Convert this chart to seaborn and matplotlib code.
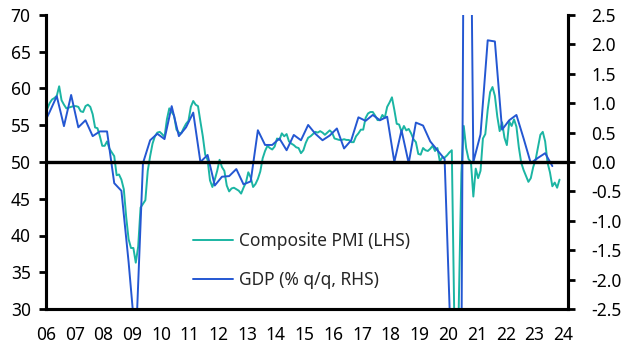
import numpy as np
import pandas as pd
import matplotlib.pyplot as plt
import seaborn as sns

# Composite PMI, monthly, Jan 2006 - Nov 2023
pmi = [
    57.2, 58.0, 58.5, 58.7, 59.0, 60.3, 58.4, 57.8, 57.3, 57.4, 57.5, 57.6,  # 2006
    57.6, 57.5, 56.9, 56.8, 57.6, 57.8, 57.5, 56.5, 54.7, 54.6, 53.5, 52.2,  # 2007
    52.2, 52.8, 51.8, 51.3, 50.8, 48.2, 48.3, 47.6, 46.3, 42.5, 39.5, 38.3,  # 2008
    38.3, 36.3, 38.5, 43.8, 44.3, 44.8, 48.8, 50.8, 52.5, 53.5, 54.0, 54.1,  # 2009
    53.8, 53.4, 55.8, 57.3, 56.8, 56.3, 54.4, 54.0, 53.9, 54.6, 55.2, 55.6,  # 2010
    57.5, 58.3, 57.8, 57.6, 55.5, 53.5, 51.0, 50.3, 47.5, 46.6, 47.6, 48.8,  # 2011
    50.3, 49.3, 48.8, 46.8, 46.0, 46.4, 46.5, 46.3, 46.1, 45.7, 46.5, 47.2,  # 2012
    48.6, 47.9, 46.6, 47.0, 47.7, 48.7, 50.5, 51.5, 52.2, 51.9, 51.7, 52.1,  # 2013
    53.2, 53.0, 53.9, 53.5, 53.8, 52.8, 52.5, 52.3, 52.0, 51.9, 51.2, 51.6,  # 2014
    52.6, 53.3, 53.5, 53.8, 54.1, 54.0, 54.2, 54.0, 53.7, 54.0, 54.3, 54.0,  # 2015
    53.2, 53.1, 53.0, 53.0, 53.1, 53.0, 53.0, 52.7, 52.7, 53.5, 53.9, 54.4,  # 2016
    54.4, 56.0, 56.6, 56.8, 56.8, 56.3, 55.7, 55.7, 56.4, 56.0, 57.5, 58.1,  # 2017
    58.8, 57.1, 55.2, 55.1, 54.1, 54.9, 54.3, 54.5, 53.9, 53.1, 52.7, 51.1,  # 2018
    51.0, 51.9, 51.6, 51.5, 51.8, 52.2, 51.5, 51.9, 50.1, 50.6, 50.6, 50.9,  # 2019
    51.3, 51.6, 29.7, 13.6, 31.9, 48.5, 54.9, 51.9, 50.4, 50.0, 45.3, 49.1,  # 2020
    47.8, 48.8, 53.2, 53.8, 57.1, 59.5, 60.2, 59.0, 56.2, 54.2, 55.4, 53.3,  # 2021
    52.3, 55.5, 54.9, 55.8, 54.8, 52.0, 49.9, 48.9, 48.1, 47.3, 47.8, 49.3,  # 2022
    50.3, 52.0, 53.7, 54.1, 52.8, 49.9, 48.6, 46.7, 47.2, 46.5, 47.6,        # 2023
]
pmi_start = 2006

# GDP % q/q, quarterly, Q4 2005 - Q3 2023
gdp = [
    0.60,
    0.85, 1.12, 0.61, 1.14,    # 2006
    0.59, 0.71, 0.44, 0.52,    # 2007
    0.52, -0.36, -0.49, -1.70, # 2008
    -3.10, -0.02, 0.37, 0.48,  # 2009
    0.39, 0.95, 0.44, 0.59,    # 2010
    0.84, 0.00, 0.12, -0.40,   # 2011
    -0.25, -0.24, -0.12, -0.38,  # 2012
    -0.33, 0.54, 0.29, 0.29,   # 2013
    0.40, 0.20, 0.46, 0.37,    # 2014
    0.63, 0.48, 0.37, 0.45,    # 2015
    0.57, 0.23, 0.37, 0.76,    # 2016
    0.70, 0.80, 0.71, 0.77,    # 2017
    0.00, 0.54, -0.02, 0.67,   # 2018
    0.62, 0.35, 0.20, 0.05,    # 2019
    -3.60, -11.50, 12.50, 0.00,  # 2020
    0.47, 2.07, 2.05, 0.55,    # 2021
    0.71, 0.80, 0.40, -0.02,   # 2022
    0.07, 0.15, -0.07,         # 2023
]
gdp_start = 2005.75

years = list(range(2006, 2025))
year_labels = [f"{y % 100:02d}" for y in years]

teal = "#1bb5a3"
blue = "#2457d2"

sns.set_style("white")
plt.rcParams["font.family"] = ["Noto Sans", "DejaVu Sans"]

pmi_df = pd.DataFrame({"date": pmi_start + (np.arange(len(pmi)) + 0.5) / 12, "value": pmi})
gdp_df = pd.DataFrame({"date": gdp_start + (np.arange(len(gdp)) + 0.5) / 4, "value": gdp})

fig = plt.figure(figsize=(6.3, 3.57), dpi=100)
ax = fig.add_axes([46 / 630, 1 - 309 / 357, 522 / 630, 294 / 357])
ax2 = ax.twinx()

sns.lineplot(data=pmi_df, x="date", y="value", ax=ax, color=teal, lw=1.4,
             label="Composite PMI (LHS)")
sns.lineplot(data=gdp_df, x="date", y="value", ax=ax2, color=blue, lw=1.4,
             label="GDP (% q/q, RHS)")
ax2.axhline(0, color="black", lw=2.4, zorder=5)

ax.set_xlim(2006, 2024.17)
ax.set_ylim(30, 70)
ax2.set_ylim(-2.5, 2.5)

ax.set_xticks(years)
ax.set_xticklabels(year_labels)
ax.set_yticks(range(30, 71, 5))
rticks = np.arange(-2.5, 2.51, 0.5)
ax2.set_yticks(rticks)
ax2.set_yticklabels([f"{v:.1f}" for v in rticks])

for a in (ax, ax2):
    a.set_xlabel("")
    a.set_ylabel("")
    a.spines["top"].set_visible(False)
    for s in ("left", "right", "bottom"):
        a.spines[s].set_linewidth(2.2)
        a.spines[s].set_color("black")
    a.tick_params(direction="out", length=5, width=2, labelsize=12.5,
                  colors="black")
    a.grid(False)

ax.tick_params(axis="x", pad=7.5)
ax.tick_params(axis="y", pad=6)
ax2.tick_params(axis="y", pad=12)

h1, l1 = ax.get_legend_handles_labels()
h2, l2 = ax2.get_legend_handles_labels()
ax.get_legend().remove()
ax2.get_legend().remove()
ax2.legend(h1 + h2, l1 + l2, frameon=False, loc="center left",
           bbox_to_anchor=(0.282, 0.165), borderpad=0, borderaxespad=0,
           handlelength=2.3, handletextpad=0.35, labelspacing=1.2, fontsize=12.5)

fig.savefig("out.png", dpi=100)
